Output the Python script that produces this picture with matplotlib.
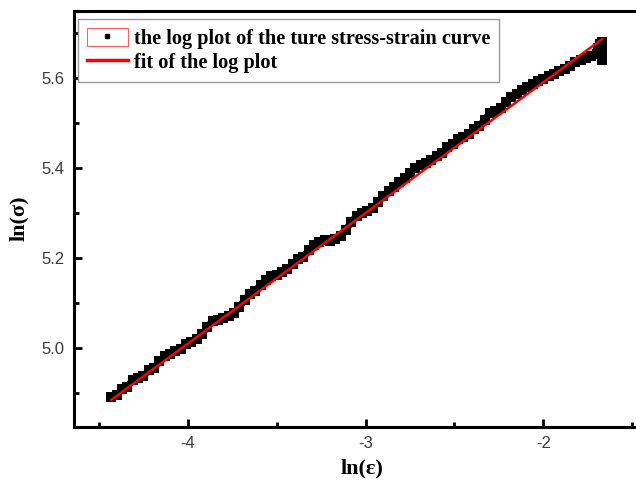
import matplotlib
matplotlib.use("Agg")
import matplotlib.pyplot as plt
from matplotlib.patches import Patch
from matplotlib.lines import Line2D

# ln(strain) / ln(stress)
ln_strain = [-4.43, -4.40, -4.37, -4.34, -4.31, -4.28, -4.25, -4.22, -4.19, -4.16,
             -4.13, -4.10, -4.07, -4.04, -4.01, -3.98, -3.95, -3.92, -3.89, -3.86,
             -3.83, -3.80, -3.77, -3.74, -3.71, -3.68, -3.65, -3.62, -3.59, -3.56,
             -3.53, -3.50, -3.47, -3.44, -3.41, -3.38, -3.35, -3.32, -3.29, -3.26,
             -3.23, -3.20, -3.17, -3.14, -3.11, -3.08, -3.05, -3.02, -2.99, -2.96,
             -2.93, -2.90, -2.87, -2.84, -2.81, -2.78, -2.75, -2.72, -2.69, -2.66,
             -2.63, -2.60, -2.57, -2.54, -2.51, -2.48, -2.45, -2.42, -2.39, -2.36,
             -2.33, -2.30, -2.27, -2.24, -2.21, -2.18, -2.15, -2.12, -2.09, -2.06,
             -2.03, -2.00, -1.97, -1.94, -1.91, -1.88, -1.85, -1.82, -1.79, -1.76,
             -1.73, -1.70, -1.67, -1.68, -1.67, -1.69, -1.67]
ln_stress = [4.891, 4.896, 4.908, 4.914, 4.929, 4.934, 4.938, 4.950, 4.956, 4.970,
             4.982, 4.986, 4.993, 4.997, 5.009, 5.013, 5.019, 5.031, 5.047, 5.060,
             5.063, 5.066, 5.071, 5.077, 5.091, 5.107, 5.121, 5.127, 5.140, 5.152,
             5.159, 5.163, 5.168, 5.176, 5.186, 5.197, 5.203, 5.217, 5.228, 5.236,
             5.240, 5.239, 5.242, 5.249, 5.263, 5.280, 5.294, 5.301, 5.305, 5.311,
             5.324, 5.338, 5.348, 5.359, 5.370, 5.377, 5.389, 5.401, 5.408, 5.412,
             5.418, 5.428, 5.434, 5.446, 5.453, 5.464, 5.469, 5.475, 5.486, 5.493,
             5.508, 5.522, 5.528, 5.533, 5.546, 5.558, 5.564, 5.574, 5.580, 5.587,
             5.594, 5.599, 5.604, 5.609, 5.615, 5.621, 5.628, 5.635, 5.640, 5.645,
             5.649, 5.654, 5.661, 5.675, 5.680, 5.668, 5.640]

# linear fit of the log plot
fit_intercept = 6.172
fit_slope = 0.2906
fit_x = [min(ln_strain), max(ln_strain)]
fit_y = [fit_intercept + fit_slope * v for v in fit_x]

x_ticks = [-4, -3, -2]
y_ticks = [5.0, 5.2, 5.4, 5.6]

fig = plt.figure(figsize=(6.36, 4.82), dpi=100)
ax = fig.add_axes([74/636, 1-426.7/482, 576/636, 416/482])

n_main = 93
ax.plot(ln_strain[:n_main], ln_stress[:n_main], '-', color='black',
        linewidth=5, solid_capstyle='butt', zorder=2)
ax.plot(ln_strain, ln_stress, 's', color='black', markersize=6.5,
        markeredgewidth=0, zorder=2)
ax.plot(fit_x, fit_y, color='red', linewidth=1.8, zorder=3)

ax.set_xlim(-4.64, -1.40)
ax.set_ylim(4.825, 5.750)
ax.set_xticks(x_ticks)
ax.set_xticks([-4.5, -3.5, -2.5, -1.5], minor=True)
ax.set_yticks(y_ticks)
ax.set_yticks([4.9, 5.1, 5.3, 5.5, 5.7], minor=True)
ax.set_xticklabels([str(v) for v in x_ticks])
ax.set_yticklabels(["%.1f" % v for v in y_ticks])

for s in ax.spines.values():
    s.set_linewidth(2.2)
ax.tick_params(which='major', direction='in', length=6, width=2.0,
               labelsize=12, labelcolor='#3a3a3a', pad=7)
ax.tick_params(which='minor', direction='in', length=3.5, width=2.0)
ax.tick_params(top=False, right=False, which='both')
for lab in ax.get_xticklabels() + ax.get_yticklabels():
    lab.set_family('Liberation Sans')

ax.set_xlabel('ln(ε)', family='Liberation Serif', fontweight='bold',
              fontsize=16, labelpad=5)
ax.set_ylabel('ln(σ)', family='Liberation Serif', fontweight='bold',
              fontsize=16, labelpad=9)

h_data = (Patch(facecolor='white', edgecolor='#ff6060', linewidth=0.8),
          Line2D([], [], marker='s', color='black', linestyle='none', markersize=3))
h_fit = Line2D([], [], color='red', linewidth=2.5)
leg = ax.legend([h_data, h_fit],
                ['the log plot of the ture stress-strain curve', 'fit of the log plot'],
                loc='upper left', bbox_to_anchor=(78/636, 1-19.3/482),
                bbox_transform=fig.transFigure, borderaxespad=0,
                prop={'family': 'Liberation Serif', 'weight': 'bold', 'size': 14.6},
                frameon=True, fancybox=False, framealpha=1,
                handlelength=2.0, handleheight=0.95, labelspacing=0.15,
                handletextpad=0.3, borderpad=0.45)
leg.get_frame().set_edgecolor('#999999')
leg.get_frame().set_linewidth(1.0)

fig.savefig('out.png', dpi=100)
